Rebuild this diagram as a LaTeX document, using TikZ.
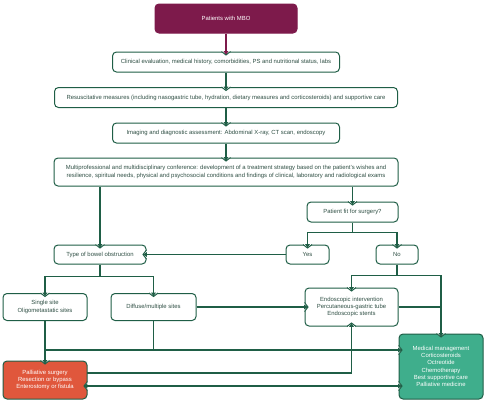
\documentclass[tikz,border=0pt]{standalone}
\usepackage{fontspec}
\setmainfont{Liberation Sans}
\usetikzlibrary{arrows.meta,calc}
\definecolor{bord}{HTML}{1F5E46}
\definecolor{txt}{HTML}{2F4F44}
\definecolor{maroon}{HTML}{7D1A4B}
\definecolor{orng}{HTML}{E0573C}
\definecolor{teal}{HTML}{3FAE8C}
\newcommand\notchat[2]{%
  \begin{scope}[shift={#1},rotate=#2]
    \fill[white] (-4.5,-1.2) -- (4.5,-1.2) -- (4.5,0) -- (0,3.5) -- (-4.5,0) -- cycle;
    \draw[bord,line width=0.75pt,line join=miter] (-4.5,0) -- (0,3.5) -- (4.5,0);
  \end{scope}}
\begin{document}
\begin{tikzpicture}[x=0.75pt,y=-0.75pt,
  box/.style={draw=bord,line width=0.75pt,rounded corners=3pt,fill=white,text=txt,
    inner sep=0pt,align=center,font=\fontsize{4.45}{5.5}\selectfont},
  sz/.style 2 args={minimum width=#1*0.75pt,minimum height=#2*0.75pt},
  conn/.style={draw=bord,line width=0.9pt},
  arr/.style={conn,-{Triangle[length=2.6pt,width=3.4pt]},shorten >=-2.4pt},
  darr/.style={conn,{Triangle[length=2.6pt,width=3.4pt]}-{Triangle[length=2.6pt,width=3.4pt]},shorten >=-2.4pt,shorten <=-2.4pt}]
\useasboundingbox (0,0) rectangle (489,400);

% nodes
\node[box,sz={142}{29},fill=maroon,draw=maroon,text=white] (mbo) at (226,18.5) {Patients with MBO};
\node[box,sz={227}{20}] (clin) at (226,62) {Clinical evaluation, medical history, comorbidities, PS and nutritional status, labs};
\node[box,sz={343}{20}] (resus) at (226,97.5) {Resuscitative measures (including nasogastric tube, hydration, dietary measures and corticosteroids) and supportive care};
\node[box,sz={227}{20}] (imag) at (226,133) {Imaging and diagnostic assessment: Abdominal X-ray, CT scan, endoscopy};
\node[box,sz={344}{28}] (multi) at (226,172) {Multiprofessional and multidisciplinary conference: development of a treatment strategy based on the patient's wishes and\\resilience, spiritual needs, physical and psychosocial conditions and findings of clinical, laboratory and radiological exams};
\node[box,sz={91}{20}] (fit) at (352.5,212) {Patient fit for surgery?};
\node[box,sz={92}{19}] (type) at (100,254.5) {Type of bowel obstruction};
\node[box,sz={43}{19}] (yes) at (307.5,254.5) {Yes};
\node[box,sz={42}{19}] (no) at (397,254.5) {No};
\node[box,sz={84}{27}] (single) at (45,307) {Single site\\Oligometastatic sites};
\node[box,sz={85}{27}] (diffuse) at (153.5,307) {Diffuse/multiple sites};
\node[box,sz={93}{38}] (endo) at (351.5,307) {Endoscopic intervention\\Percutaneous-gastric tube\\Endoscopic stents};
\node[box,sz={84}{38},fill=orng,text=white] (pall) at (45,380) {Palliative surgery\\Resection or bypass\\Enterostomy or fistula};
\node[box,sz={84}{65},fill=teal,text=white] (med) at (441,366.5) {Medical management\\Corticosteroids\\Octreotide\\Chemotherapy\\Best supportive care\\Palliative medicine};

% helper coordinates
\coordinate (fy) at ($(fit.south)+(0,10)$);
\coordinate (ty) at ($(type.south)+(0,12)$);
\coordinate (ny) at ($(no.south)+(0,11)$);
\coordinate (hl) at (45,350);
\coordinate (p1) at (87,373);
\coordinate (p2) at (87,386);

% notches
\notchat{(clin.north)}{0}
\notchat{(resus.north)}{0}
\notchat{(imag.north)}{0}
\notchat{(multi.north)}{0}
\notchat{(fit.north)}{0}
\notchat{(type.north)}{0}
\notchat{(yes.north)}{0}
\notchat{(no.north)}{0}
\notchat{(single.north)}{0}
\notchat{(diffuse.north)}{0}
\notchat{(endo.north)}{0}
\notchat{(med.north)}{0}
\notchat{(pall.north)}{0}
\notchat{(type.east)}{-90}
\notchat{(endo.west)}{90}
\notchat{(endo.south)}{180}
\notchat{(hl -| med.west)}{90}
\notchat{(p2 -| med.west)}{90}
\notchat{(p2 -| pall.east)}{-90}

% connectors
\draw[arr,draw=maroon,fill=maroon] (mbo.south) -- (clin.north);
\draw[arr] (clin.south) -- (resus.north);
\draw[arr] (resus.south) -- (imag.north);
\draw[arr] (imag.south) -- (multi.north);
\draw[arr] (fit.north |- multi.south) -- (fit.north);
\draw[arr] (type.north |- multi.south) -- (type.north);
\draw[conn] (fit.south) -- (fy);
\draw[arr] (fy) -| (yes.north);
\draw[arr] (fy) -| (no.north);
\draw[arr] (yes.west) -- (type.east);
\draw[conn] (type.south) -- (ty);
\draw[arr] (ty) -| (single.north);
\draw[arr] (ty) -| (diffuse.north);
\draw[conn] (no.south) -- (ny);
\draw[arr] (ny) -| (endo.north);
\draw[arr] (ny) -| (med.north);
\draw[conn] (endo.east) -- (endo.east -| med.north);
\draw[arr] (diffuse.east) -- (endo.west);
\draw[arr] (single.south) -- (pall.north);
\draw[conn] (diffuse.south) -- (diffuse.south |- hl);
\draw[arr] (hl) -- (hl -| med.west);
\draw[arr] (p1) -| (endo.south);
\draw[darr] (p2) -- (p2 -| med.west);
\end{tikzpicture}
\end{document}
